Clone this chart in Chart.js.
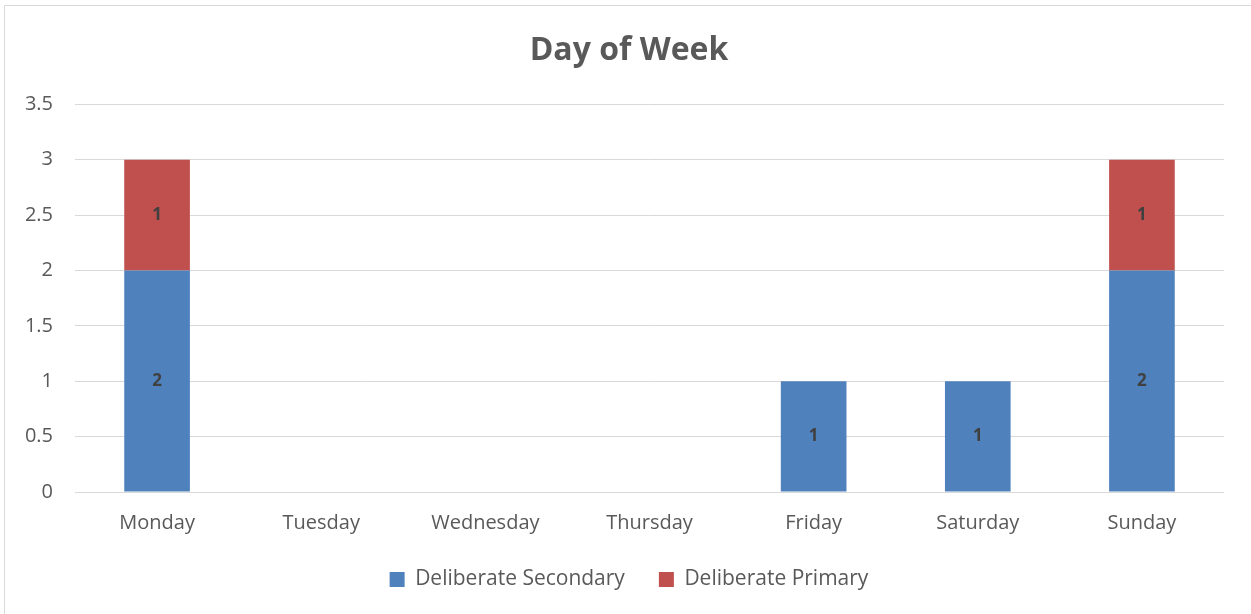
<!DOCTYPE html>
<html>
<head>
<meta charset="utf-8">
<script src="https://cdn.jsdelivr.net/npm/chart.js@4/dist/chart.umd.min.js"></script>
<style>
  html, body { margin: 0; padding: 0; background: #fff; overflow: hidden; }
  #wrap { position: relative; width: 1251px; height: 614px; overflow: hidden; }
  #frame { position: absolute; left: 4px; top: 5px; width: 1260px; height: 620px; border: 1px solid #d9d9d9; box-sizing: border-box; }
  canvas { position: absolute; left: 0; top: 0; }
</style>
</head>
<body>
<div id="wrap">
  <div id="frame"></div>
  <canvas id="chart" width="1258" height="614"></canvas>
</div>
<script>
// dados do gráfico
const days = ['Monday', 'Tuesday', 'Wednesday', 'Thursday', 'Friday', 'Saturday', 'Sunday'];
const secondaryValues = [2, 0, 0, 0, 1, 1, 2];
const primaryValues = [1, 0, 0, 0, 0, 0, 1];
const seriesNames = ['Deliberate Secondary', 'Deliberate Primary'];

const FONT = "'Open Sans', 'Noto Sans', sans-serif";

// rótulos dentro das barras
const barLabels = {
    id: 'barLabels',
    afterDatasetsDraw(chart) {
        const ctx = chart.ctx;
        ctx.save();
        ctx.font = 'bold 17px ' + FONT;
        ctx.fillStyle = '#404040';
        ctx.textAlign = 'center';
        ctx.textBaseline = 'middle';
        chart.data.datasets.forEach((ds, i) => {
            const meta = chart.getDatasetMeta(i);
            meta.data.forEach((bar, j) => {
                const v = ds.data[j];
                if (!v) return;
                ctx.fillText(String(v), bar.x, (bar.y + bar.base) / 2);
            });
        });
        ctx.restore();
    }
};

new Chart(document.getElementById('chart'), {
    type: 'bar',
    data: {
        labels: days,
        datasets: [
            {
                label: seriesNames[0],
                data: secondaryValues,
                backgroundColor: '#4f81bd',
                barPercentage: 0.4,
                categoryPercentage: 1
            },
            {
                label: seriesNames[1],
                data: primaryValues,
                backgroundColor: '#c0504d',
                barPercentage: 0.4,
                categoryPercentage: 1
            }
        ]
    },
    options: {
        responsive: false,
        animation: false,
        layout: { padding: { left: 0, right: 0, top: 32, bottom: 19 } },
        plugins: {
            title: {
                display: true,
                text: 'Day of Week',
                color: '#595959',
                font: { family: FONT, size: 32, weight: 'bold' },
                padding: { top: 0, bottom: 34 }
            },
            legend: {
                position: 'bottom',
                maxHeight: 60,
                labels: {
                    color: '#595959',
                    font: { family: FONT, size: 21 },
                    boxWidth: 15,
                    boxHeight: 15,
                    padding: 34
                }
            },
            tooltip: { enabled: false }
        },
        scales: {
            x: {
                stacked: true,
                afterFit(scale) { scale.height = 43; },
                grid: { display: false, drawTicks: false },
                border: { display: false },
                ticks: {
                    color: '#595959',
                    font: { family: FONT, size: 20, lineHeight: 1 },
                    padding: 21
                }
            },
            y: {
                stacked: true,
                min: 0,
                max: 3.5,
                afterFit(scale) { scale.width = 75; },
                grid: { color: '#d9d9d9', lineWidth: 1, drawTicks: false },
                border: { display: false },
                ticks: {
                    stepSize: 0.5,
                    color: '#595959',
                    font: { family: FONT, size: 20 },
                    padding: 22,
                    callback: value => String(value)
                }
            },
            // margem à direita da área do gráfico
            yRight: {
                position: 'right',
                display: true,
                afterFit(scale) { scale.width = 34; },
                grid: { display: false },
                border: { display: false },
                ticks: { display: false }
            }
        }
    },
    plugins: [barLabels]
});
</script>
</body>
</html>
